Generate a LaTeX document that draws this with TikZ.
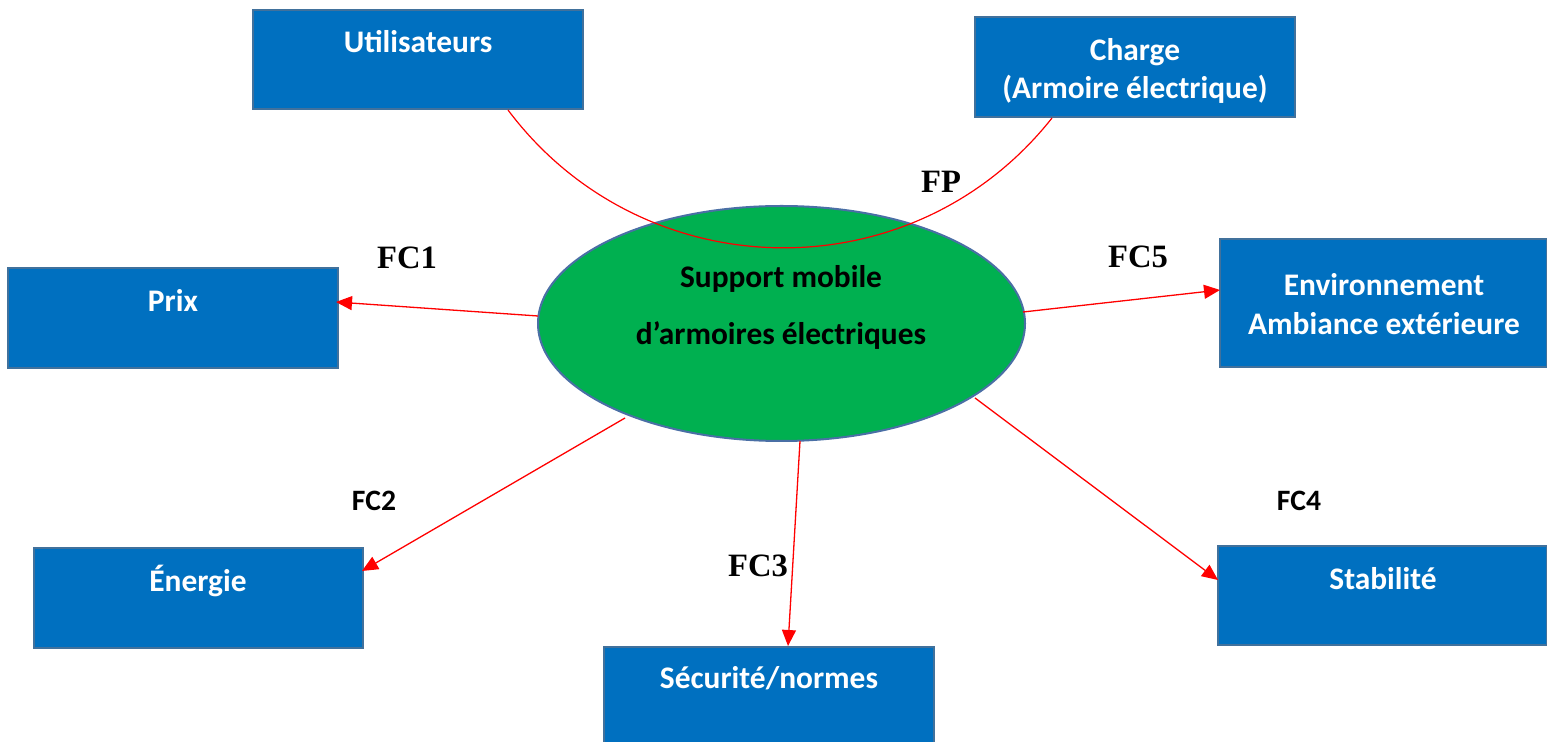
\documentclass[tikz,border=0pt]{standalone}
\usepackage{fontspec}
\setmainfont{Carlito}
\newfontfamily\tnr{Liberation Serif}
\usetikzlibrary{shapes.geometric,arrows.meta,calc}
\definecolor{boxblue}{HTML}{0070C0}
\definecolor{boxedge}{HTML}{41719C}
\definecolor{ellgreen}{HTML}{00B050}
\definecolor{elledge}{HTML}{4A6FA5}
\tikzset{
  box/.style={draw=boxedge,line width=1pt,fill=boxblue,rectangle,inner sep=0pt},
  boxtxt/.style={anchor=base,text=white,font=\fontsize{15.7}{19}\selectfont\bfseries,inner sep=0pt},
  elltxt/.style={anchor=base,text=black,font=\fontsize{15.7}{19}\selectfont\bfseries,inner sep=0pt},
  fcserif/.style={anchor=base,font=\tnr\fontsize{16.3}{19}\selectfont\bfseries,inner sep=0pt},
  fcsans/.style={anchor=base,font=\fontsize{14.8}{17}\selectfont\bfseries,inner sep=0pt},
  conn/.style={draw=red,line width=0.65pt,-{Triangle[length=8pt,width=7pt]}},
  fpline/.style={draw=red,line width=0.6pt}
}
\begin{document}
\begin{tikzpicture}[x=0.5pt,y=-0.5pt]
\useasboundingbox (0,0) rectangle (1547,742);
% boxes
\node[box,minimum width=165pt,minimum height=49.5pt] (util) at (418,59.5) {};
\node[box,minimum width=160pt,minimum height=50pt] (charge) at (1135,67) {};
\node[box,minimum width=165pt,minimum height=50pt] (prix) at (173,318) {};
\node[box,minimum width=163.5pt,minimum height=64pt] (env) at (1383.5,303) {};
\node[box,minimum width=164.5pt,minimum height=50pt] (energie) at (198.5,598) {};
\node[box,minimum width=165pt,minimum height=50pt] (secu) at (769,697) {};
\node[box,minimum width=164.5pt,minimum height=49.5pt] (stab) at (1382.5,595.5) {};
% box texts
\node[boxtxt] (tutil) at (418,53) {Utilisateurs};
\node[boxtxt] (tcharge1) at (1135,61) {Charge};
\node[boxtxt] (tcharge2) at (1135,99) {(Armoire électrique)};
\node[boxtxt] (tprix) at (173,312) {Prix};
\node[boxtxt] (tenv1) at (1384,296) {Environnement};
\node[boxtxt] (tenv2) at (1384,335) {Ambiance extérieure};
\node[boxtxt] (tenergie) at (198,592) {Énergie};
\node[boxtxt] (tsecu) at (769,688) {Sécurité/normes};
\node[boxtxt] (tstab) at (1383,589) {Stabilité};
% central ellipse
\node[ellipse,draw=elledge,line width=1pt,fill=ellgreen,minimum width=243.5pt,minimum height=117.5pt,inner sep=0pt] (ell) at (781.5,323.5) {};
\node[elltxt] (tell1) at (781,288) {Support mobile};
\node[elltxt] (tell2) at (781,345) {d’armoires électriques};
% FP arc
\coordinate (fpa) at (508,110);
\coordinate (fpb) at (1052,118);
\draw[fpline] (fpa) .. controls (642.8,289.8) and (912,295) .. (fpb);
% connector end points
\coordinate (s1) at (538,316);
\coordinate (e1) at (336,302);
\coordinate (s5) at (1023,312);
\coordinate (e5) at (1220,290);
\coordinate (s2) at (625,418);
\coordinate (e2) at (362,571);
\coordinate (s3) at (800,441);
\coordinate (e3) at (788,646);
\coordinate (s4) at (975,398);
\coordinate (e4) at (1218,580);
\draw[conn] (s1) -- (e1);
\draw[conn] (s5) -- (e5);
\draw[conn] (s2) -- (e2);
\draw[conn] (s3) -- (e3);
\draw[conn] (s4) -- (e4);
% labels
\node[fcserif] (lfp) at (941,193) {FP};
\node[fcserif] (lfc1) at (407,269) {FC1};
\node[fcserif] (lfc5) at (1138,268) {FC5};
\node[fcsans] (lfc2) at (374,511) {FC2};
\node[fcserif] (lfc3) at (758,576) {FC3};
\node[fcsans] (lfc4) at (1299,511) {FC4};
\end{tikzpicture}
\end{document}
